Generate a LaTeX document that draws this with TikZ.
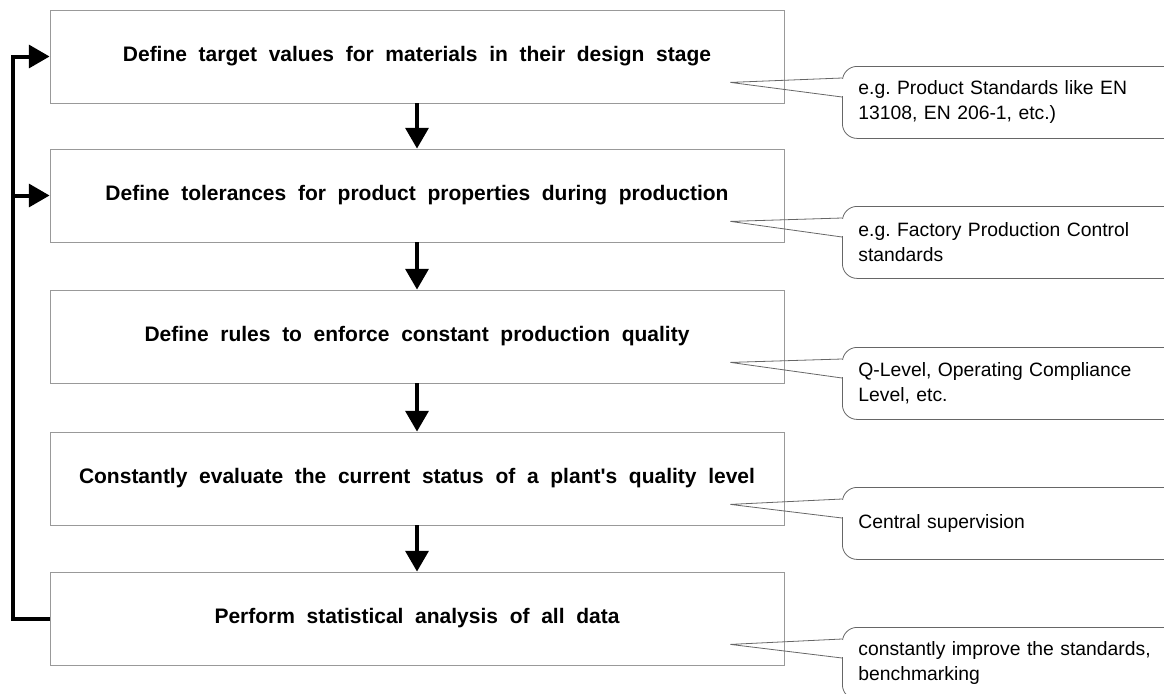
\documentclass[tikz,border=0pt]{standalone}
\usepackage{fontspec}
\setmainfont{Liberation Sans}
\newfontfamily\stepfont[WordSpace=2]{Liberation Sans}
\usetikzlibrary{arrows.meta,calc}
\frenchspacing

\begin{document}
\begin{tikzpicture}[x=0.75pt,y=0.75pt,yscale=-1,xscale=1,
  stepbox/.style={draw=black!40,line width=0.6pt,minimum width=550.5pt,minimum height=69.75pt,inner sep=0pt,font=\stepfont\fontsize{15.75}{18}\selectfont\bfseries},
  note/.style={draw=black!60,line width=0.6pt,rounded corners=11pt,anchor=north west,minimum height=54pt,text width=240pt,inner xsep=12pt,inner ysep=0pt,align=left,font=\fontsize{14.5}{18.75}\selectfont},
  ptr/.style={draw=black!60,line width=0.6pt},
  flow/.style={line width=3pt,-{Triangle[length=15.5pt,width=17pt]}}]
\useasboundingbox (0,0) rectangle (1164,693);

% Steps
\node[stepbox] (b1) at (417,56.5) {Define target values for materials in their design stage};
\node[stepbox] (b2) at (417,195.5) {Define tolerances for product properties during production};
\node[stepbox] (b3) at (417,336.5) {Define rules to enforce constant production quality};
\node[stepbox] (b4) at (417,478.5) {Constantly evaluate the current status of a plant\textquotesingle s quality level};
\node[stepbox] (b5) at (417,618.5) {Perform statistical analysis of all data};

% Notes
\node[note] (c1) at (842,66) {e.g. Product Standards like EN\\13108, EN 206-1, etc.)};
\node[note] (c2) at (842,206) {e.g. Factory Production Control\\standards};
\node[note] (c3) at (842,347) {Q-Level, Operating Compliance\\Level, etc.};
\node[note] (c4) at (842,487) {Central supervision};
\node[note] (c5) at (842,627) {constantly improve the standards,\\benchmarking};

% Pointer tips
\coordinate (t1) at ($(b1.south east)+(-54,-21)$);
\coordinate (t2) at ($(b2.south east)+(-54,-21)$);
\coordinate (t3) at ($(b3.south east)+(-54,-21)$);
\coordinate (t4) at ($(b4.south east)+(-54,-21)$);
\coordinate (t5) at ($(b5.south east)+(-54,-21)$);

% Pointers
\draw[white,line width=1.5pt] ($(c1.north west)+(0,13)$) -- ($(c1.north west)+(0,30)$);
\draw[white,line width=1.5pt] ($(c2.north west)+(0,13)$) -- ($(c2.north west)+(0,30)$);
\draw[white,line width=1.5pt] ($(c3.north west)+(0,13)$) -- ($(c3.north west)+(0,30)$);
\draw[white,line width=1.5pt] ($(c4.north west)+(0,13)$) -- ($(c4.north west)+(0,30)$);
\draw[white,line width=1.5pt] ($(c5.north west)+(0,13)$) -- ($(c5.north west)+(0,30)$);
\draw[ptr] ($(c1.north west)+(0,12)$) -- (t1) -- ($(c1.north west)+(0,31)$);
\draw[ptr] ($(c2.north west)+(0,12)$) -- (t2) -- ($(c2.north west)+(0,31)$);
\draw[ptr] ($(c3.north west)+(0,12)$) -- (t3) -- ($(c3.north west)+(0,31)$);
\draw[ptr] ($(c4.north west)+(0,12)$) -- (t4) -- ($(c4.north west)+(0,31)$);
\draw[ptr] ($(c5.north west)+(0,12)$) -- (t5) -- ($(c5.north west)+(0,31)$);

% Flow
\draw[flow] (b1) -- (b2);
\draw[flow] (b2) -- (b3);
\draw[flow] (b3) -- (b4);
\draw[flow] (b4) -- (b5);

% Feedback
\coordinate (rail) at (13,0);
\draw[flow] (b5.west) -| (rail |- b1.west) -- (b1.west);
\draw[flow] (rail |- b2.west) -- (b2.west);

\end{tikzpicture}
\end{document}
